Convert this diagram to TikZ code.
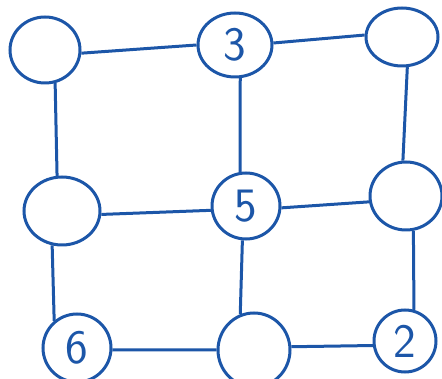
\documentclass[tikz,border=0pt]{standalone}
\usepackage{fontspec}
\usepackage{tikz}
\usetikzlibrary{shapes.geometric}
\definecolor{pen}{RGB}{28,86,168}

\begin{document}
\begin{tikzpicture}[x=1pt,y=-1pt]

        \useasboundingbox (0,0) rectangle (442,379);

        \tikzstyle{every node}=[draw=pen,ellipse,line width=3pt,inner sep=0pt,font=\sffamily\fontsize{48}{48}\selectfont,text=pen]
        \tikzstyle{wire}=[draw=pen,line width=3pt]

        \foreach \n / \x / \y / \w / \h / \t in {1/45/50/70/66/,2/235/45/74/64/3,3/402/37/72/58/,
                                                4/62/211/76/68/,5/246/206/68/66/5,6/406/196/72/68/,
                                                7/77/348/68/68/6,8/254/350/72/74/,9/405/341/62/62/2} {
            \node[minimum width=\w pt, minimum height=\h pt] (v_\n) at (\x,\y) {\t};
        }

        \foreach \a / \p / \b / \q in {1/-5/2/180,2/3/3/177,4/-5/5/187,5/-3/6/189,7/-3/8/180,8/5/9/188,
                                      1/-73/4/98,4/-106/7/130,2/-81/5/100,5/-96/8/111,3/-80/6/95,6/-78/9/74} {
            \draw[wire] (v_\a.\p) -- (v_\b.\q);
        }

    \end{tikzpicture}
\end{document}
